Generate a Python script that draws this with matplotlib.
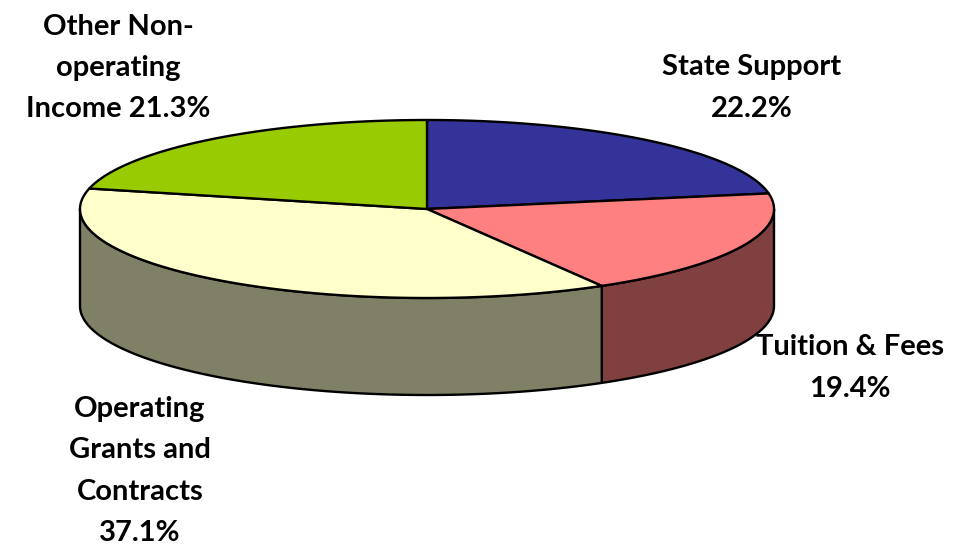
import numpy as np
import matplotlib
matplotlib.use("Agg")
import matplotlib.pyplot as plt
from matplotlib.patches import Polygon

categories = ["State Support", "Tuition & Fees", "Operating Grants and Contracts", "Other Non-operating Income"]
values = [22.2, 19.4, 37.1, 21.3]
label_texts = ["State Support\n22.2%", "Tuition & Fees\n19.4%",
               "Operating\nGrants and\nContracts\n37.1%", "Other Non-\noperating\nIncome 21.3%"]
top_colors = ["#333399", "#FF8080", "#FFFFCC", "#99CC00"]
side_colors = ["#1A1A4D", "#804040", "#808066", "#4D6600"]

W, H = 957, 550
fig = plt.figure(figsize=(W / 100, H / 100), dpi=100)
ax = fig.add_axes([0, 0, 1, 1])
ax.set_xlim(0, W)
ax.set_ylim(H, 0)
ax.axis("off")

cx, cy, rx, ry, depth = 427, 209, 347, 89, 97
lw = 1.7

def pt(t, dz=0.0):
    return cx + rx * np.cos(t), cy - ry * np.sin(t) + dz

fr = np.array(values) / np.sum(values)
starts = np.pi / 2 - 2 * np.pi * np.concatenate([[0], np.cumsum(fr)[:-1]])
ends = starts - 2 * np.pi * fr

# side faces (front half: angles between -pi and 0)
for s, e, sc in zip(starts, ends, side_colors):
    a0 = min(s, 0.0)
    a1 = max(e, -np.pi)
    if a0 <= a1:
        continue
    t = np.linspace(a0, a1, 200)
    x, y = pt(t)
    xb, yb = pt(t[::-1], depth)
    poly = np.column_stack([np.concatenate([x, xb]), np.concatenate([y, yb])])
    ax.add_patch(Polygon(poly, closed=True, facecolor=sc, edgecolor="black", lw=lw, joinstyle="round"))

# top faces
for s, e, tc in zip(starts, ends, top_colors):
    t = np.linspace(s, e, 300)
    x, y = pt(t)
    poly = np.column_stack([np.concatenate([[cx], x]), np.concatenate([[cy], y])])
    ax.add_patch(Polygon(poly, closed=True, facecolor=tc, edgecolor="black", lw=lw, joinstyle="round"))

label_pos = [(752, 88), (850, 368), (140, 471), (118, 68)]
for txt, (lx, ly) in zip(label_texts, label_pos):
    ax.text(lx, ly, txt, ha="center", va="center", fontsize=21, fontweight="bold",
            family=["Lato", "DejaVu Sans"], linespacing=1.72, color="black")

fig.savefig("out.png", dpi=100)
